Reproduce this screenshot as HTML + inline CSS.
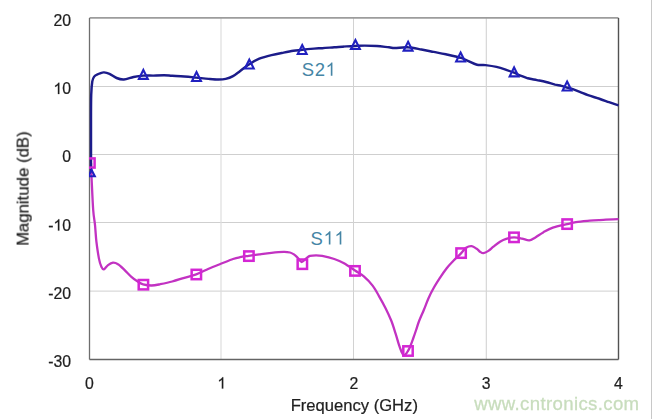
<!DOCTYPE html>
<html><head><meta charset="utf-8"><style>
html,body{margin:0;padding:0;background:#fff;}
body{width:658px;height:419px;overflow:hidden;}
svg{display:block;}
text{font-family:"Liberation Sans", sans-serif;}
</style></head><body>
<svg width="658" height="419" viewBox="0 0 658 419">
<rect width="658" height="419" fill="#fff"/>
<line x1="651.5" y1="0" x2="651.5" y2="419" stroke="#c8c8c8" stroke-width="1"/>
<g><line x1="89.5" y1="86.5" x2="618.5" y2="86.5" stroke="#cfcfcf" stroke-width="1"/><line x1="89.5" y1="154.5" x2="618.5" y2="154.5" stroke="#cfcfcf" stroke-width="1"/><line x1="89.5" y1="222.5" x2="618.5" y2="222.5" stroke="#cfcfcf" stroke-width="1"/><line x1="89.5" y1="291.1" x2="618.5" y2="291.1" stroke="#cfcfcf" stroke-width="1"/><line x1="221" y1="17.9" x2="221" y2="359.2" stroke="#dedede" stroke-width="1.2"/><line x1="353.5" y1="17.9" x2="353.5" y2="359.2" stroke="#d2d2d2" stroke-width="1"/><line x1="486.3" y1="17.9" x2="486.3" y2="359.2" stroke="#d2d2d2" stroke-width="1.1"/></g>
<line x1="89.5" y1="17.9" x2="618.5" y2="17.9" stroke="#9c9c9c" stroke-width="1.6"/>
<line x1="89.5" y1="17.9" x2="89.5" y2="359.5" stroke="#6e6e6e" stroke-width="1.3"/>
<line x1="89.5" y1="359.5" x2="618.5" y2="359.5" stroke="#646464" stroke-width="1.4"/>
<line x1="618.5" y1="17.9" x2="618.5" y2="359.5" stroke="#525252" stroke-width="1.4"/>
<g style="filter:grayscale(1)" stroke="#1f1f1f" stroke-width="0.22"><text x="53.43" y="25.80" font-size="15.8" fill="#1f1f1f" letter-spacing="0.0">20</text><path transform="translate(53.43,94.06) scale(15.8)" d="M0.3726,0 L0.2847,0 L0.2847,-0.5601 Q0.2529,-0.5298 0.2014,-0.4995 Q0.1499,-0.4692 0.1089,-0.4541 L0.1089,-0.5391 Q0.1826,-0.5737 0.2378,-0.6230 Q0.2930,-0.6724 0.3159,-0.7188 L0.3726,-0.7188 Z" fill="#1f1f1f" vector-effect="non-scaling-stroke"/><text x="62.21" y="94.06" font-size="15.8" fill="#1f1f1f" letter-spacing="0.0">0</text><text x="62.21" y="162.32" font-size="15.8" fill="#1f1f1f" letter-spacing="0.0">0</text><text x="48.16" y="230.58" font-size="15.8" fill="#1f1f1f" letter-spacing="0.0">-</text><path transform="translate(53.43,230.58) scale(15.8)" d="M0.3726,0 L0.2847,0 L0.2847,-0.5601 Q0.2529,-0.5298 0.2014,-0.4995 Q0.1499,-0.4692 0.1089,-0.4541 L0.1089,-0.5391 Q0.1826,-0.5737 0.2378,-0.6230 Q0.2930,-0.6724 0.3159,-0.7188 L0.3726,-0.7188 Z" fill="#1f1f1f" vector-effect="non-scaling-stroke"/><text x="62.21" y="230.58" font-size="15.8" fill="#1f1f1f" letter-spacing="0.0">0</text><text x="48.16" y="298.84" font-size="15.8" fill="#1f1f1f" letter-spacing="0.0">-20</text><text x="48.16" y="367.10" font-size="15.8" fill="#1f1f1f" letter-spacing="0.0">-30</text><text x="85.11" y="388.60" font-size="15.8" fill="#1f1f1f" letter-spacing="0.0">0</text><path transform="translate(217.36,388.60) scale(15.8)" d="M0.3726,0 L0.2847,0 L0.2847,-0.5601 Q0.2529,-0.5298 0.2014,-0.4995 Q0.1499,-0.4692 0.1089,-0.4541 L0.1089,-0.5391 Q0.1826,-0.5737 0.2378,-0.6230 Q0.2930,-0.6724 0.3159,-0.7188 L0.3726,-0.7188 Z" fill="#1f1f1f" vector-effect="non-scaling-stroke"/><text x="349.61" y="388.60" font-size="15.8" fill="#1f1f1f" letter-spacing="0.0">2</text><text x="481.86" y="388.60" font-size="15.8" fill="#1f1f1f" letter-spacing="0.0">3</text><text x="614.11" y="388.60" font-size="15.8" fill="#1f1f1f" letter-spacing="0.0">4</text>
<text x="354.3" y="410.9" text-anchor="middle" font-size="16.6" fill="#1f1f1f">Frequency (GHz)</text>
<text transform="translate(28.6,188.65) rotate(-90)" text-anchor="middle" font-size="16.8" fill="#1f1f1f">Magnitude (dB)</text></g>
<text x="301.70" y="75.70" font-size="18.5" fill="#4585a5" letter-spacing="0.6">S2</text><path transform="translate(325.53,75.70) scale(18.5)" d="M0.3726,0 L0.2847,0 L0.2847,-0.5601 Q0.2529,-0.5298 0.2014,-0.4995 Q0.1499,-0.4692 0.1089,-0.4541 L0.1089,-0.5391 Q0.1826,-0.5737 0.2378,-0.6230 Q0.2930,-0.6724 0.3159,-0.7188 L0.3726,-0.7188 Z" fill="#4585a5" vector-effect="non-scaling-stroke"/>
<text x="310.60" y="244.60" font-size="18.5" fill="#4585a5" letter-spacing="0.6">S</text><path transform="translate(323.54,244.60) scale(18.5)" d="M0.3726,0 L0.2847,0 L0.2847,-0.5601 Q0.2529,-0.5298 0.2014,-0.4995 Q0.1499,-0.4692 0.1089,-0.4541 L0.1089,-0.5391 Q0.1826,-0.5737 0.2378,-0.6230 Q0.2930,-0.6724 0.3159,-0.7188 L0.3726,-0.7188 Z" fill="#4585a5" vector-effect="non-scaling-stroke"/><path transform="translate(334.43,244.60) scale(18.5)" d="M0.3726,0 L0.2847,0 L0.2847,-0.5601 Q0.2529,-0.5298 0.2014,-0.4995 Q0.1499,-0.4692 0.1089,-0.4541 L0.1089,-0.5391 Q0.1826,-0.5737 0.2378,-0.6230 Q0.2930,-0.6724 0.3159,-0.7188 L0.3726,-0.7188 Z" fill="#4585a5" vector-effect="non-scaling-stroke"/>
<text x="474.2" y="410" font-size="18.6" letter-spacing="0.36" fill="#c8ddbd" stroke="#c8ddbd" stroke-width="0.3">www.cntronics.com</text>
<defs><clipPath id="pc"><rect x="89.5" y="9.899999999999999" width="537.0" height="349.3"/></clipPath></defs>
<g clip-path="url(#pc)">
<path d="M91.0,163.0 C91.1,165.3 91.1,168.9 91.5,176.7 C91.9,184.5 92.6,201.9 93.2,210.0 C93.8,218.1 94.5,219.7 95.0,225.0 C95.5,230.3 95.8,236.1 96.4,241.7 C97.1,247.3 98.1,254.2 98.9,258.4 C99.7,262.6 100.6,265.0 101.4,266.8 C102.2,268.6 102.8,269.6 103.9,269.3 C105.0,269.0 106.5,266.2 108.0,265.1 C109.5,264.0 111.3,262.8 113.0,262.6 C114.7,262.5 116.0,262.9 118.0,264.2 C120.0,265.4 122.5,268.0 124.7,270.1 C126.9,272.2 129.2,274.9 131.4,276.8 C133.6,278.8 136.2,280.6 138.1,281.8 C140.0,283.1 140.9,283.7 143.1,284.3 C145.3,284.9 148.7,285.5 151.5,285.5 C154.3,285.5 156.4,285.0 159.8,284.3 C163.2,283.6 168.1,282.6 172.2,281.5 C176.3,280.4 180.3,279.0 184.3,277.8 C188.3,276.6 192.1,275.9 196.2,274.4 C200.2,272.9 204.5,270.5 208.6,268.7 C212.7,266.9 216.7,265.4 220.8,263.8 C224.9,262.2 229.8,260.1 233.0,259.0 C236.2,257.9 237.4,257.7 240.0,257.2 C242.6,256.7 245.5,256.3 248.7,255.8 C251.9,255.3 255.5,254.8 259.3,254.3 C263.1,253.8 267.4,253.2 271.5,252.8 C275.6,252.4 280.5,252.0 283.6,251.9 C286.7,251.8 288.2,252.1 290.0,252.5 C291.8,252.9 292.9,253.8 294.2,254.6 C295.4,255.4 296.2,256.3 297.5,257.5 C298.8,258.7 300.2,261.9 301.7,262.0 C303.2,262.1 305.3,259.0 306.7,258.0 C308.1,257.0 308.4,256.4 310.0,255.9 C311.6,255.5 314.1,255.3 316.1,255.3 C318.1,255.3 319.2,255.3 322.2,255.9 C325.2,256.5 330.7,257.8 334.3,259.0 C337.9,260.2 340.6,261.3 344.0,263.2 C347.4,265.1 351.7,268.3 355.0,270.5 C358.3,272.7 360.9,273.9 363.8,276.4 C366.7,278.9 370.1,282.3 372.6,285.6 C375.2,288.9 376.9,292.5 379.1,296.3 C381.3,300.1 383.7,304.4 385.7,308.4 C387.7,312.4 389.5,316.3 391.2,320.5 C392.9,324.7 394.3,329.6 395.6,333.6 C396.9,337.6 397.9,341.6 398.9,344.6 C399.9,347.7 400.8,350.2 401.6,351.9 C402.4,353.6 403.0,354.6 403.7,355.0 C404.4,355.4 405.0,354.8 405.6,354.2 C406.2,353.6 406.9,352.7 407.6,351.5 C408.3,350.3 409.1,349.1 410.0,347.0 C410.9,344.9 412.0,341.8 413.0,339.0 C414.0,336.2 415.1,333.0 416.1,330.0 C417.1,327.0 417.8,324.3 419.1,321.0 C420.4,317.7 422.2,313.8 423.8,310.0 C425.4,306.2 426.8,302.1 428.4,298.5 C430.0,294.9 431.4,292.0 433.4,288.5 C435.3,285.0 437.9,281.0 440.1,277.6 C442.3,274.2 444.5,271.0 446.7,268.2 C448.9,265.4 451.0,263.3 453.4,260.8 C455.8,258.3 458.9,255.6 461.0,253.4 C463.1,251.2 464.3,248.9 466.1,247.7 C467.9,246.5 469.9,245.9 471.7,246.1 C473.5,246.3 475.3,247.9 476.7,248.8 C478.1,249.7 478.9,251.0 480.0,251.7 C481.1,252.4 482.0,253.3 483.4,253.2 C484.8,253.1 486.7,252.0 488.4,250.9 C490.1,249.8 491.5,248.2 493.4,246.7 C495.3,245.2 497.9,243.0 500.0,241.7 C502.1,240.4 503.8,239.5 506.2,238.8 C508.6,238.1 511.5,237.4 514.1,237.4 C516.7,237.4 519.5,238.1 522.0,238.6 C524.5,239.1 527.1,240.6 529.3,240.4 C531.5,240.2 533.1,238.7 535.4,237.4 C537.7,236.1 540.3,234.0 543.2,232.4 C546.1,230.8 548.8,229.0 552.8,227.6 C556.8,226.2 563.2,225.0 567.1,224.1 C571.0,223.2 572.2,222.7 576.0,222.1 C579.8,221.5 585.1,221.1 589.7,220.7 C594.3,220.3 598.6,220.1 603.4,219.8 C608.2,219.5 616.0,219.2 618.5,219.1" fill="none" stroke="#c232c2" stroke-width="2.3" stroke-linejoin="round"/>
<path d="M91.0,172.0 C91.0,163.3 91.0,132.8 91.0,120.0 C91.0,107.2 91.0,101.4 91.2,95.0 C91.4,88.6 91.8,84.5 92.3,81.4 C92.8,78.3 93.4,77.7 94.2,76.6 C95.0,75.5 96.0,75.1 97.0,74.6 C98.0,74.0 98.8,73.7 100.0,73.3 C101.2,72.9 102.4,72.3 104.0,72.4 C105.6,72.5 107.4,72.9 109.5,73.8 C111.6,74.7 114.2,77.0 116.6,78.0 C119.0,79.0 121.1,79.7 123.9,79.5 C126.7,79.3 130.3,77.7 133.6,77.0 C136.8,76.3 140.2,75.8 143.4,75.6 C146.7,75.4 149.7,75.6 153.1,75.6 C156.5,75.5 160.8,75.3 164.0,75.3 C167.2,75.3 168.8,75.6 172.2,75.8 C175.6,76.0 180.3,76.2 184.3,76.5 C188.3,76.8 192.1,77.2 196.2,77.6 C200.2,78.0 204.9,78.6 208.6,78.9 C212.3,79.2 215.6,79.5 218.4,79.5 C221.2,79.5 223.3,79.5 225.7,78.9 C228.1,78.3 230.8,77.3 233.0,76.1 C235.2,74.9 236.3,73.9 239.0,71.9 C241.7,69.9 245.9,66.4 249.3,64.2 C252.7,62.0 255.6,60.2 259.3,58.7 C263.0,57.2 267.4,56.1 271.5,55.1 C275.6,54.1 280.0,53.3 283.6,52.6 C287.2,51.9 290.3,51.3 293.4,50.8 C296.5,50.3 298.8,50.2 302.2,49.8 C305.6,49.4 310.7,48.9 314.0,48.6 C317.3,48.3 318.8,48.4 322.2,48.2 C325.6,48.0 330.2,47.6 334.3,47.3 C338.4,47.0 343.0,46.6 346.5,46.4 C350.0,46.2 352.2,46.1 355.2,46.0 C358.2,45.9 361.1,45.6 364.7,45.6 C368.3,45.6 372.8,45.7 376.9,46.0 C380.9,46.3 386.0,47.0 389.0,47.3 C392.0,47.6 391.5,48.0 394.7,48.0 C397.9,48.0 403.6,47.0 408.1,47.3 C412.6,47.5 417.2,48.7 421.5,49.5 C425.8,50.3 429.6,51.1 433.6,51.9 C437.7,52.7 441.3,53.3 445.8,54.3 C450.3,55.3 456.8,56.7 460.4,57.7 C464.0,58.8 464.5,59.4 467.3,60.6 C470.1,61.8 474.0,64.0 477.0,64.7 C480.0,65.5 482.2,64.7 485.5,65.1 C488.8,65.5 493.1,66.1 496.5,66.9 C499.9,67.7 503.3,68.9 506.2,69.9 C509.1,70.9 511.7,71.8 514.1,72.7 C516.5,73.7 518.2,74.7 520.5,75.6 C522.8,76.5 525.1,77.5 527.8,78.3 C530.5,79.0 533.9,79.5 536.9,80.1 C539.9,80.7 543.0,81.2 546.0,82.0 C549.0,82.8 552.5,83.9 555.1,84.6 C557.7,85.2 559.4,85.4 561.4,85.9 C563.4,86.4 565.2,87.0 567.1,87.6 C569.0,88.1 570.6,88.5 572.8,89.2 C575.0,90.0 577.9,91.1 580.4,92.1 C582.9,93.1 584.7,94.0 588.0,95.2 C591.3,96.4 596.5,97.8 600.0,99.0 C603.5,100.2 605.9,101.1 609.0,102.2 C612.1,103.3 616.9,104.9 618.5,105.4" fill="none" stroke="#1c1c8a" stroke-width="2.45" stroke-linejoin="round"/>
<g fill="none" stroke="#d426d4" stroke-width="2.5"><rect x="86.6" y="158.4" width="8" height="9.2"/><rect x="138.70" y="280.00" width="9.4" height="9.4"/><rect x="191.65" y="269.80" width="9.4" height="9.4"/><rect x="244.20" y="251.40" width="9.4" height="9.4"/><rect x="297.65" y="259.50" width="9.4" height="9.4"/><rect x="350.30" y="266.20" width="9.4" height="9.4"/><rect x="403.30" y="346.30" width="9.4" height="9.4"/><rect x="456.40" y="248.40" width="9.4" height="9.4"/><rect x="509.30" y="232.65" width="9.4" height="9.4"/><rect x="562.45" y="219.40" width="9.4" height="9.4"/></g>
<g fill="none" stroke="#2020c0" stroke-width="2.1" stroke-linejoin="miter"><path d="M91.60,170.10 L94.80,176.30 L88.40,176.30 Z"/><path d="M143.35,69.95 L147.80,78.85 L138.90,78.85 Z"/><path d="M196.50,72.05 L200.95,80.95 L192.05,80.95 Z"/><path d="M249.30,59.65 L253.75,68.55 L244.85,68.55 Z"/><path d="M302.20,45.05 L306.65,53.95 L297.75,53.95 Z"/><path d="M355.40,40.05 L359.85,48.95 L350.95,48.95 Z"/><path d="M408.10,41.75 L412.55,50.65 L403.65,50.65 Z"/><path d="M460.60,52.55 L465.05,61.45 L456.15,61.45 Z"/><path d="M514.10,67.45 L518.55,76.35 L509.65,76.35 Z"/><path d="M567.10,81.55 L571.55,90.45 L562.65,90.45 Z"/></g>
</g>
</svg>
</body></html>
